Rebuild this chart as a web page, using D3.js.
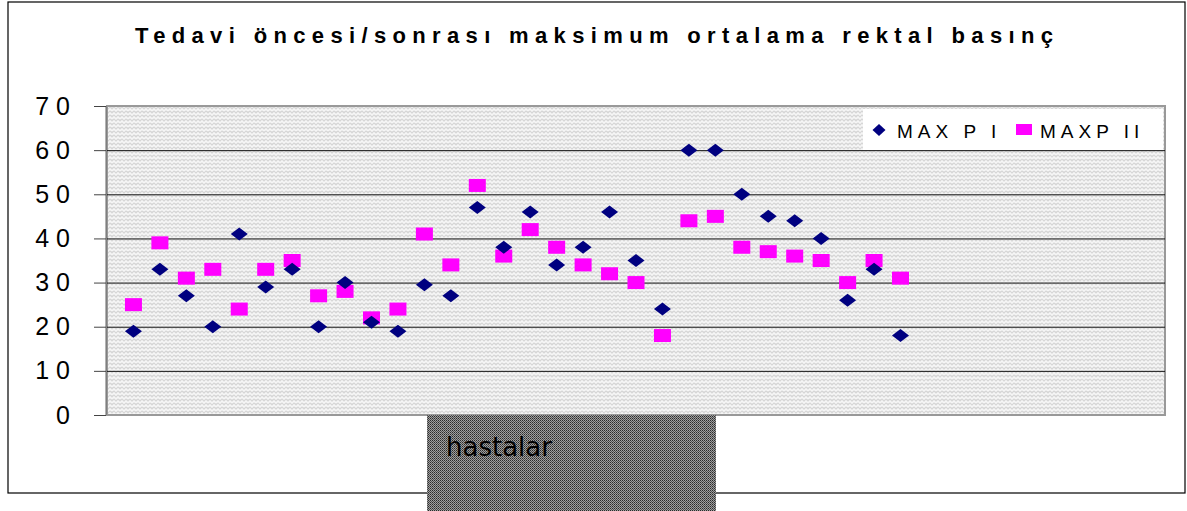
<!DOCTYPE html>
<html>
<head>
<meta charset="utf-8">
<script src="https://cdnjs.cloudflare.com/ajax/libs/d3/7.8.5/d3.min.js"></script>
<style>
  body { margin: 0; background: #fff; }
  svg { display: block; }
</style>
</head>
<body>
<svg width="1187" height="511"></svg>
<script>
var title = 'Tedavi öncesi/sonrası maksimum ortalama rektal basınç';
var seriesNames = ['MAX P I', 'MAXP II'];
var colors = ['#000080', '#ff00ff'];
var yTicks = [0, 10, 20, 30, 40, 50, 60, 70];
// hasta numaralari 1..30
var patients = [1, 2, 3, 4, 5, 6, 7, 8, 9, 10, 11, 12, 13, 14, 15, 16, 17, 18, 19, 20,
  21, 22, 23, 24, 25, 26, 27, 28, 29, 30];
var maxP1 = [19, 33, 27, 20, 41, 29, 33, 20, 30, 21, 19, 29.5, 27, 47, 38, 46, 34, 38, 46, 35,
  24, 60, 60, 50, 45, 44, 40, 26, 33, 18];
var maxP2 = [25, 39, 31, 33, 24, 33, 35, 27, 28, 22, 24, 41, 34, 52, 36, 42, 38, 34, 32, 30,
  18, 44, 45, 38, 37, 36, 35, 30, 35, 31];

var svg = d3.select('svg');
var pLeft = 107, pRight = 1165, pTop = 106, pBottom = 415;

var x = d3.scaleLinear().domain([0, 40]).range([pLeft, pRight]);
var y = d3.scaleLinear().domain([0, 70]).range([pBottom, pTop]);

var defs = svg.append('defs');
var weave = defs.append('pattern')
  .attr('id', 'weave')
  .attr('width', 8)
  .attr('height', 8)
  .attr('patternUnits', 'userSpaceOnUse');
weave.append('rect').attr('width', 8).attr('height', 8).attr('fill', '#d6d6d6');
weave.append('path')
  .attr('d', 'M0,3 L2,1 L4,3 L6,1 L8,3 M0,7 L2,5 L4,7 L6,5 L8,7')
  .attr('stroke', '#f6f6f6')
  .attr('stroke-width', 1.6)
  .attr('fill', 'none');

var dots = defs.append('pattern')
  .attr('id', 'dots')
  .attr('width', 2)
  .attr('height', 2)
  .attr('patternUnits', 'userSpaceOnUse');
dots.append('rect').attr('width', 2).attr('height', 2).attr('fill', '#a0a0a0');
dots.append('rect').attr('width', 1).attr('height', 1).attr('fill', '#2a2a2a');
dots.append('rect').attr('x', 1).attr('y', 1).attr('width', 1).attr('height', 1).attr('fill', '#505050');

// outer chart frame
svg.append('rect')
  .attr('x', 8).attr('y', 2)
  .attr('width', 1177).attr('height', 491)
  .attr('fill', '#fff')
  .attr('stroke', '#000')
  .attr('stroke-width', 1.2);

svg.append('text')
  .attr('x', 135)
  .attr('y', 43)
  .attr('textLength', 918)
  .attr('lengthAdjust', 'spacing')
  .style('font-family', 'Liberation Sans Narrow, Liberation Sans, Arial, sans-serif')
  .style('font-weight', 'bold')
  .style('font-size', '22px')
  .text(title);

// plot area
svg.append('rect')
  .attr('x', pLeft).attr('y', pTop)
  .attr('width', pRight - pLeft).attr('height', pBottom - pTop)
  .attr('fill', 'url(#weave)')
  .attr('stroke', '#999')
  .attr('stroke-width', 2);

svg.append('g').selectAll('line')
  .data(yTicks.filter(function(d) { return d > 0 && d < 70; }))
  .enter()
  .append('line')
  .attr('x1', pLeft).attr('x2', pRight)
  .attr('y1', function(d) { return y(d) + 0.5; })
  .attr('y2', function(d) { return y(d) + 0.5; })
  .attr('stroke', '#111')
  .attr('stroke-width', 1);

var yAxis = d3.axisLeft(y)
  .tickValues(yTicks)
  .tickSize(12)
  .tickPadding(24)
  .tickFormat(function(d) { return String(d).split('').join(' '); });
var yg = svg.append('g')
  .attr('transform', 'translate(' + (pLeft - 1) + ',0)')
  .call(yAxis);
yg.select('.domain').attr('stroke', '#666').attr('d', 'M0,' + pTop + 'V' + pBottom);
yg.selectAll('.tick line').attr('stroke', '#444');
yg.selectAll('.tick text')
  .style('font-family', 'Liberation Sans, Arial, sans-serif')
  .style('font-size', '25px')
  .attr('fill', '#000');

// category label box
svg.append('rect')
  .attr('x', 427).attr('y', pBottom)
  .attr('width', 289).attr('height', 96)
  .attr('fill', 'url(#dots)');
svg.append('text')
  .attr('x', 446)
  .attr('y', 456)
  .style('font-family', 'DejaVu Sans, sans-serif')
  .style('font-size', '26px')
  .attr('fill', '#000')
  .text('hastalar');

// legend
svg.append('rect')
  .attr('x', 863).attr('y', 109)
  .attr('width', 300).attr('height', 41)
  .attr('fill', '#fff');

svg.append('g').selectAll('rect')
  .data(patients)
  .enter()
  .append('rect')
  .attr('x', function(d, i) { return x(d) - 8.5; })
  .attr('y', function(d, i) { return y(maxP2[i]) - 6.5; })
  .attr('width', 17)
  .attr('height', 13)
  .attr('fill', colors[1]);

svg.append('g').selectAll('path')
  .data(patients)
  .enter()
  .append('path')
  .attr('d', 'M-8.5,0L0,-6.5L8.5,0L0,6.5Z')
  .attr('transform', function(d, i) {
    return 'translate(' + x(d) + ',' + y(maxP1[i]) + ')';
  })
  .attr('fill', colors[0]);

var legendG = svg.append('g');
legendG.append('path')
  .attr('d', 'M-6.5,0L0,-6L6.5,0L0,6Z')
  .attr('transform', 'translate(879,130)')
  .attr('fill', colors[0]);
legendG.append('rect')
  .attr('x', 1016).attr('y', 124)
  .attr('width', 16).attr('height', 11)
  .attr('fill', colors[1]);
legendG.selectAll('text')
  .data(seriesNames)
  .enter()
  .append('text')
  .attr('x', function(d, i) { return i === 0 ? 897 : 1040; })
  .attr('y', 138)
  .style('font-family', 'Liberation Sans, Arial, sans-serif')
  .style('font-size', '19px')
  .style('letter-spacing', '5px')
  .text(function(d) { return d; });
</script>
</body>
</html>
